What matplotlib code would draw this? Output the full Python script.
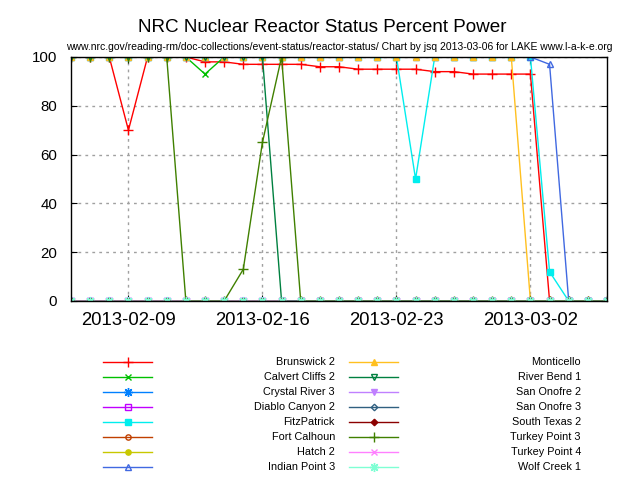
import datetime as dt
import numpy as np
import matplotlib
matplotlib.use('Agg')
import matplotlib.pyplot as plt
import matplotlib.dates as mdates

plt.rcParams['font.family'] = ['Liberation Sans', 'DejaVu Sans']

# ── Data: daily percent power, 2013-02-06 .. 2013-03-06 ──
dates = [dt.date(2013, 2, 6) + dt.timedelta(days=i) for i in range(29)]
N = np.nan

brunswick2 = [100, 100, 100, 70, 100, 100, 100, 98, 98, 97, 97, 97, 97, 96, 96,
              95, 95, 95, 95, 94, 94, 93, 93, 93, 93, 0, 0, 0, 0]
calvert2 = [100, 100, 100, 100, 100, 100, 100, 93, 100, 100, 100, 100, 100, 100, 100,
            100, 100, 100, 100, 100, 100, 100, 100, 100, 100, N, N, N, N]
crystal3 = [0, 0, 0, 0, 0, 0, 0, 0, 0, 0, 0, 0, 0, 0, 0,
            0, 0, 0, 0, 0, 0, 0, 0, 0, 0, 0, 0, 0, 0]
diablo2 = [0, 0, 0, 0, 0, 0, 0, 0, 0, 0, 0, 0, 0, 0, 0,
           0, 0, 0, 0, 0, 0, 0, 0, 0, 0, 0, 0, 0, 0]
fitzpatrick = [100, 100, 100, 100, 100, 100, 100, 100, 100, 100, 100, 100, 100, 100, 100,
               100, 100, 100, 50, 100, 100, 100, 100, 100, 100, 12, 0, 0, 0]
fortcalhoun = [0, 0, 0, 0, 0, 0, 0, 0, 0, 0, 0, 0, 0, 0, 0,
               0, 0, 0, 0, 0, 0, 0, 0, 0, 0, 0, 0, 0, 0]
hatch2 = [0, 0, 0, 0, 0, 0, 0, 0, 0, 0, 0, 0, 0, 0, 0,
          0, 0, 0, 0, 0, 0, 0, 0, 0, 0, 0, 0, 0, 0]
indianpoint3 = [100, 100, 100, 100, 100, 100, 100, 100, 100, 100, 100, 100, 100, 100, 100,
                100, 100, 100, 100, 100, 100, 100, 100, 100, 100, 97, 0, 0, 0]
monticello = [100, 100, 100, 100, 100, 100, 100, 100, 100, 100, 100, 100, 100, 100, 100,
              100, 100, 100, 100, 100, 100, 100, 100, 100, 0, 0, 0, 0, 0]
riverbend1 = [100, 100, 100, 100, 100, 100, 100, 100, 100, 100, 100, 0, 0, 0, 0,
              0, 0, 0, 0, 0, 0, 0, 0, 0, 0, 0, 0, 0, 0]
sanonofre2 = [0, 0, 0, 0, 0, 0, 0, 0, 0, 0, 0, 0, 0, 0, 0,
              0, 0, 0, 0, 0, 0, 0, 0, 0, 0, 0, 0, 0, 0]
sanonofre3 = [0, 0, 0, 0, 0, 0, 0, 0, 0, 0, 0, 0, 0, 0, 0,
              0, 0, 0, 0, 0, 0, 0, 0, 0, 0, 0, 0, 0, 0]
southtexas2 = [0, 0, 0, 0, 0, 0, 0, 0, 0, 0, 0, 0, 0, 0, 0,
               0, 0, 0, 0, 0, 0, 0, 0, 0, 0, 0, 0, 0, 0]
turkeypoint3 = [100, 100, 100, 100, 100, 100, 0, 0, 0, 13, 65, 100, 0, 0, 0,
                0, 0, 0, 0, 0, 0, 0, 0, 0, 0, 0, 0, 0, 0]
turkeypoint4 = [0, 0, 0, 0, 0, 0, 0, 0, 0, 0, 0, 0, 0, 0, 0,
                0, 0, 0, 0, 0, 0, 0, 0, 0, 0, 0, 0, 0, 0]
wolfcreek1 = [0, 0, 0, 0, 0, 0, 0, 0, 0, 0, 0, 0, 0, 0, 0,
              0, 0, 0, 0, 0, 0, 0, 0, 0, 0, 0, 0, 0, 0]

names = ["Brunswick 2", "Calvert Cliffs 2", "Crystal River 3", "Diablo Canyon 2",
         "FitzPatrick", "Fort Calhoun", "Hatch 2", "Indian Point 3",
         "Monticello", "River Bend 1", "San Onofre 2", "San Onofre 3",
         "South Texas 2", "Turkey Point 3", "Turkey Point 4", "Wolf Creek 1"]
series = [brunswick2, calvert2, crystal3, diablo2, fitzpatrick, fortcalhoun, hatch2,
          indianpoint3, monticello, riverbend1, sanonofre2, sanonofre3, southtexas2,
          turkeypoint3, turkeypoint4, wolfcreek1]

# gnuplot default line colours / point types
colors = ["#ff0000", "#00c000", "#0080ff", "#c000ff", "#00eeee", "#c04000", "#c8c800",
          "#4169e1", "#ffc020", "#008040", "#c080ff", "#306080", "#8b0000", "#408000",
          "#ff80ff", "#7fffd4"]
markers = ["+", "x", (8, 2, 0), "s", "s", "o", "o", "^", "^", "v", "v", "D", "D",
           "+", "x", (8, 2, 0)]
filled = [False, False, False, False, True, False, True, False, True, False, True,
          False, True, False, False, False]
sizes = [6.5, 5, 6.5, 4.5, 5, 3.8, 3.8, 5, 5, 5, 5, 3.3, 3.3, 6.5, 5, 6.5]

fig = plt.figure(figsize=(6.4, 4.8), dpi=100)
W, H = 640, 480
ax = fig.add_axes([71 / W, (H - 301) / H, (607 - 71) / W, (301 - 57) / H])

for vals, c, m, f, s in zip(series, colors, markers, filled, sizes):
    ax.plot(dates, vals, color=c, lw=1, marker=m, ms=s, mew=1,
            mec=c, mfc=c if f else "none")

ax.set_xlim(dates[0], dates[-1])
ax.set_ylim(0, 100)
ax.set_yticks([0, 20, 40, 60, 80, 100])
ax.set_xticks([dt.date(2013, 2, 9), dt.date(2013, 2, 16),
               dt.date(2013, 2, 23), dt.date(2013, 3, 2)])
ax.xaxis.set_major_formatter(mdates.DateFormatter("%Y-%m-%d"))
ax.tick_params(direction="in", length=4, top=True, right=True)
ax.tick_params(axis="y", pad=10, labelsize=10.8)
ax.tick_params(axis="x", pad=8, labelsize=13.3)
ax.grid(True, color="#a0a0a0", linestyle=(0, (2, 3)), lw=1)
for sp in ax.spines.values():
    sp.set_linewidth(1)

fig.text(322 / W, 1 - 27 / H, "NRC Nuclear Reactor Status Percent Power",
         ha="center", va="center", fontsize=13.6)
fig.text(339 / W, 1 - 47 / H,
         "www.nrc.gov/reading-rm/doc-collections/event-status/reactor-status/ "
         "Chart by jsq 2013-03-06 for LAKE www.l-a-k-e.org",
         ha="center", va="center", fontsize=7.5)

# ── Key below the plot, two columns of eight ──
lax = fig.add_axes([0, 0, 1, 1])
lax.set_xlim(0, W)
lax.set_ylim(H, 0)
lax.axis("off")
for i, (name, c, m, f, s) in enumerate(zip(names, colors, markers, filled, sizes)):
    col, row = divmod(i, 8)
    y = 362 + row * 15
    x0 = 103 + col * 246
    lax.plot([x0, x0 + 24.5, x0 + 49], [y, y, y], color=c, lw=1, marker=m, ms=s,
             mew=1, mec=c, mfc=c if f else "none", markevery=[1])
    lax.text(335 + col * 246, y, name, ha="right", va="center", fontsize=7.8)

fig.savefig("out.png", dpi=100)
